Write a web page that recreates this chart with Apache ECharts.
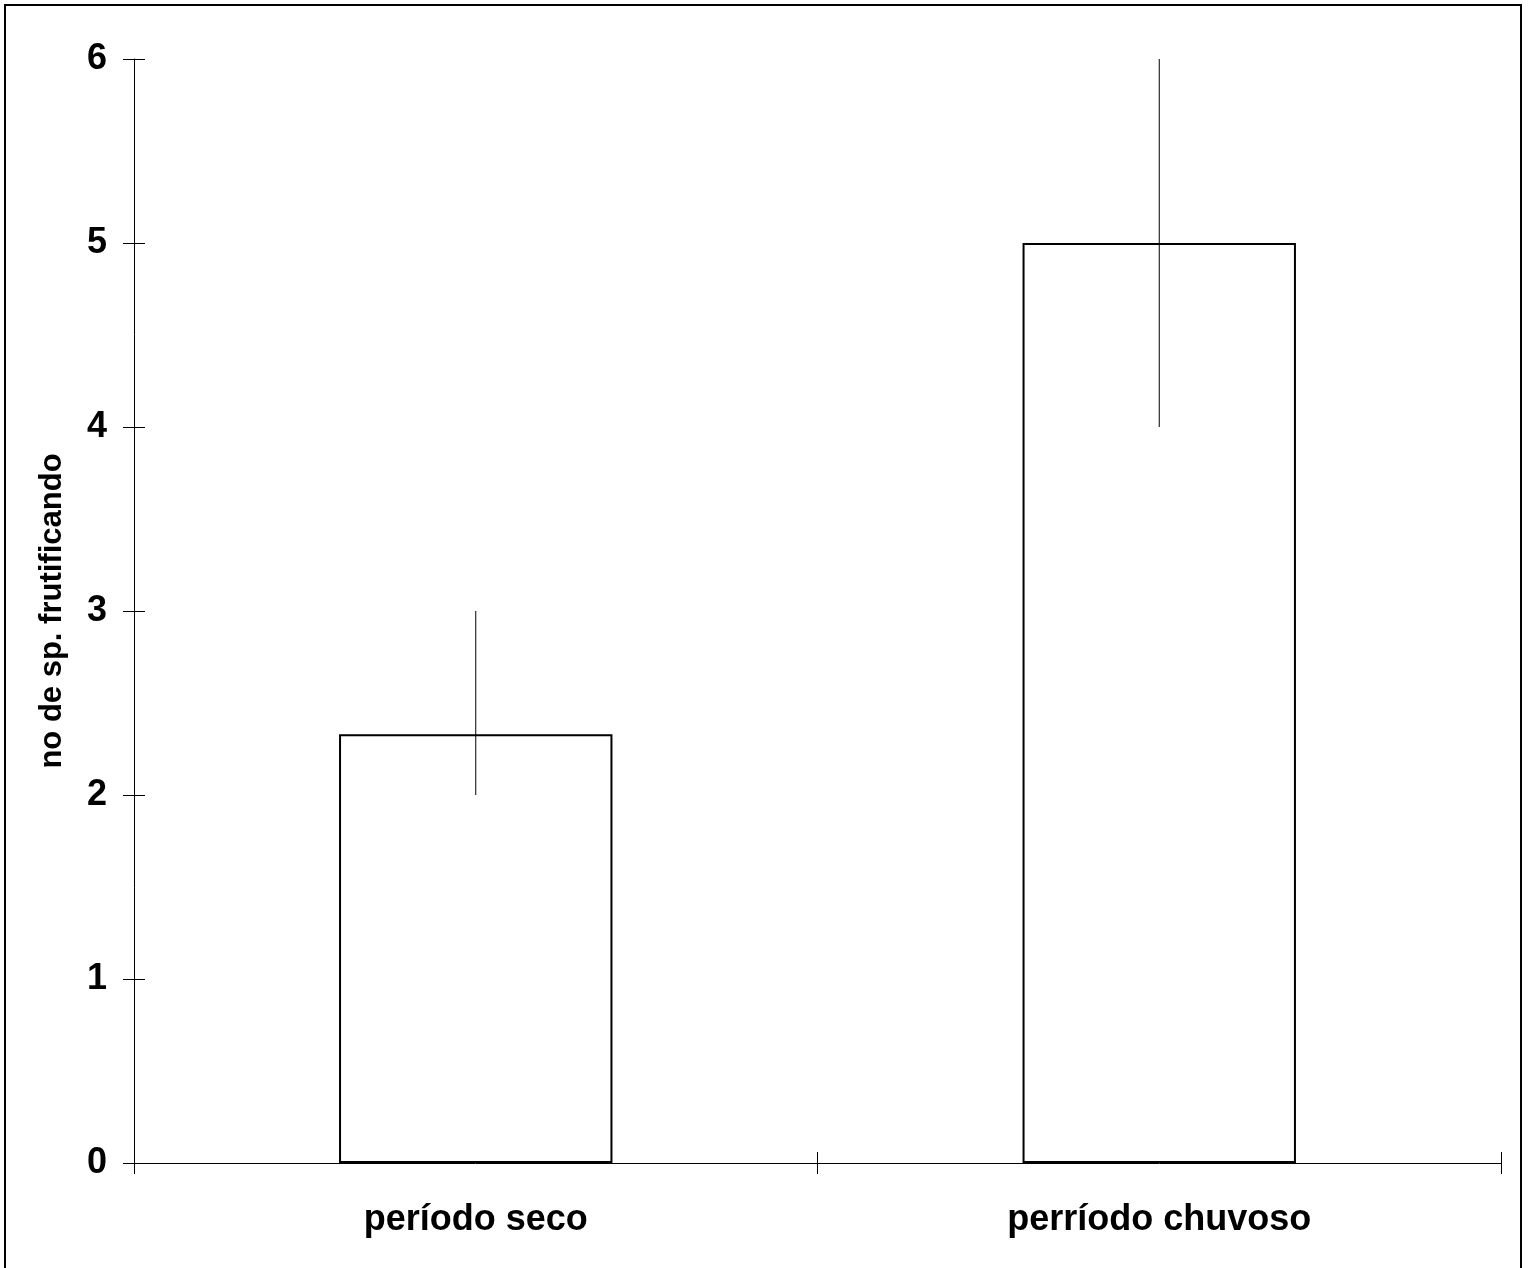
<!DOCTYPE html>
<html>
<head>
<meta charset="utf-8">
<script src="https://cdn.jsdelivr.net/npm/echarts@6/dist/echarts.min.js"></script>
<style>
html,body{margin:0;padding:0;background:#fff;}
#c{width:1529px;height:1268px;}
</style>
</head>
<body>
<div id="c"></div>
<script>
const categories = ['período seco', 'perríodo chuvoso'];
const means = [2.33, 5];
const errLow = [2, 4];
const errHigh = [3, 6];
const yTicks = { min: 0, max: 6, interval: 1 };
const yName = 'no de sp. frutificando';

const chart = echarts.init(document.getElementById('c'), null, { renderer: 'canvas' });
const font = 'Liberation Sans, Arial, sans-serif';
const errData = categories.map((c, i) => [i, errLow[i], errHigh[i]]);

chart.setOption({
  animation: false,
  backgroundColor: '#fff',
  graphic: [{
    type: 'rect', shape: { x: 5, y: 5, width: 1516, height: 1275 },
    style: { fill: 'none', stroke: '#000', lineWidth: 2 }, z: 100
  }],
  grid: { left: 134, right: 28, top: 59, bottom: 105 },
  xAxis: [{
    type: 'category', data: categories, boundaryGap: true,
    axisLine: { show: true, lineStyle: { color: '#000', width: 1 } },
    axisTick: { show: true, interval: 0, length: 11, lineStyle: { color: '#000', width: 1 }, alignWithLabel: false },
    axisLabel: { color: '#000', fontFamily: font, fontWeight: 'bold', fontSize: 36, margin: 39 },
    splitLine: { show: false }
  }, {
    type: 'category', data: categories, boundaryGap: true, position: 'bottom',
    axisLine: { show: false },
    axisTick: { show: true, interval: 0, inside: true, length: 11, lineStyle: { color: '#000', width: 1 } },
    axisLabel: { show: false }, splitLine: { show: false }
  }],
  yAxis: [{
    type: 'value', min: yTicks.min, max: yTicks.max, interval: yTicks.interval,
    name: yName, nameLocation: 'middle', nameGap: 66, nameRotate: 90,
    nameTextStyle: { color: '#000', fontFamily: font, fontWeight: 'bold', fontSize: 31 },
    axisLine: { show: true, lineStyle: { color: '#000', width: 1 } },
    axisTick: { show: true, length: 11, lineStyle: { color: '#000', width: 1 } },
    axisLabel: { color: '#000', fontFamily: font, fontWeight: 'bold', fontSize: 36, margin: 27 },
    splitLine: { show: false }
  }, {
    type: 'value', min: yTicks.min, max: yTicks.max, interval: yTicks.interval, position: 'left',
    axisLine: { show: false },
    axisTick: { show: true, inside: true, length: 11, lineStyle: { color: '#000', width: 1 } },
    axisLabel: { show: false }, splitLine: { show: false }
  }],
  series: [{
    type: 'bar', data: means, barWidth: '40%',
    itemStyle: { color: '#fff', borderColor: '#000', borderWidth: 2 },
    z: 2
  }, {
    type: 'custom', data: errData, z: 5,
    renderItem: function (params, api) {
      const x = api.value(0);
      const p1 = api.coord([x, api.value(1)]);
      const p2 = api.coord([x, api.value(2)]);
      return {
        type: 'line',
        shape: { x1: p1[0], y1: p1[1], x2: p2[0], y2: p2[1] },
        style: { stroke: '#000', lineWidth: 1 }
      };
    },
    encode: { x: 0, y: [1, 2] }
  }]
});
</script>
</body>
</html>
